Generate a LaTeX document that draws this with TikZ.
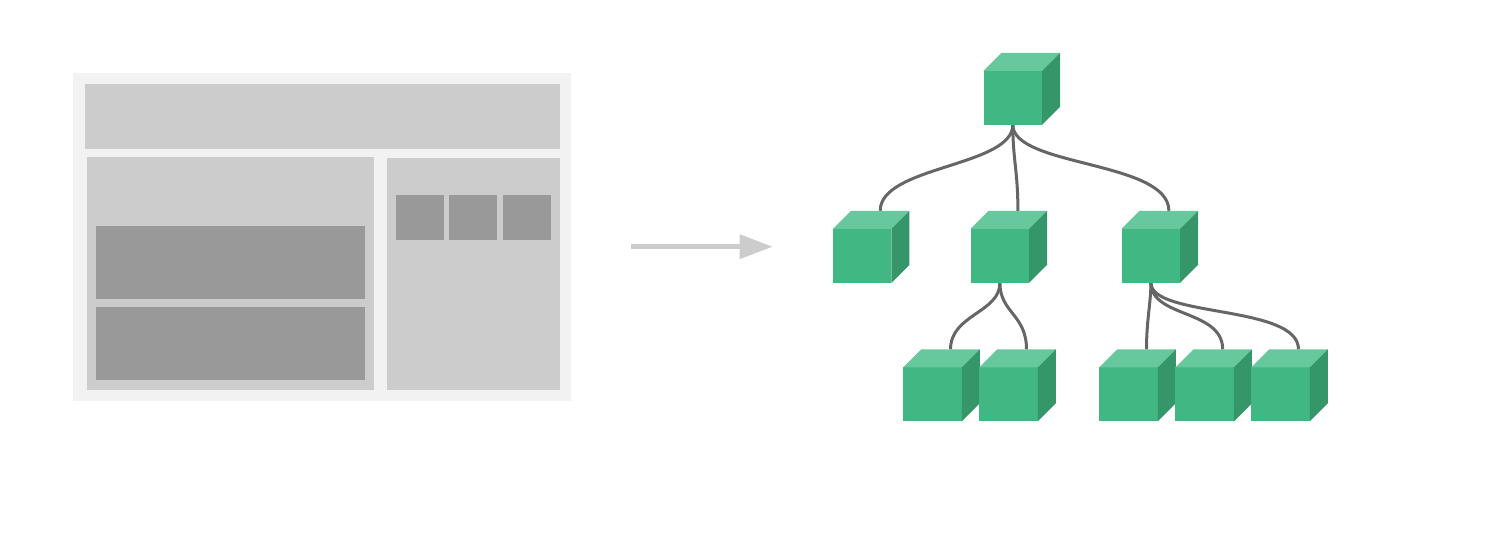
\documentclass[tikz,border=0pt]{standalone}
\usetikzlibrary{arrows.meta,calc,backgrounds}
\definecolor{vfront}{HTML}{41B883}
\definecolor{vtop}{HTML}{66C89C}
\definecolor{vside}{HTML}{35966A}
\definecolor{conncol}{HTML}{666666}
\definecolor{pbg}{HTML}{F2F2F2}
\definecolor{plight}{HTML}{CCCCCC}
\definecolor{pdark}{HTML}{999999}
\tikzset{
  cube/.style={rectangle, fill=vfront, minimum width=58.5pt, minimum height=54pt, inner sep=0pt, outer sep=0pt},
  conn/.style={draw=conncol, line width=3pt},
  bigarrow/.style={draw=plight, line width=5pt, -{Triangle[length=33pt,width=23.5pt]}},
  pane/.style={fill=plight},
  block/.style={fill=pdark},
}
\begin{document}
\begin{tikzpicture}[x=1pt,y=-1pt]
\useasboundingbox (0,0) rectangle (1498,540);
% page mock-up
\fill[pbg] (73.3,73.3) rectangle (570.7,400.7);
\fill[pane] (85.3,84) rectangle (560,149.3);
\fill[pane] (86.7,157.3) rectangle (374,390);
\fill[pane] (386.7,158.3) rectangle (560,390);
\fill[block] (96.3,226) rectangle (365.3,298.7);
\fill[block] (96,307.3) rectangle (364.7,380);
\fill[block] (396,195) rectangle (444.3,240);
\fill[block] (449.3,195) rectangle (497.3,240);
\fill[block] (502.7,195) rectangle (551,240);
% arrow
\coordinate (arrS) at (630.7,246.7);
\coordinate (arrE) at (772.7,246.7);
\draw[bigarrow] (arrS) -- (arrE);
% cubes
\foreach \n/\x/\y in {r/1012.8/97.8, a/862.2/255.8, b/999.9/255.8, c/1150.9/255.8,
  d/932.5/394.4, e/1008.5/394.4, f/1128.5/394.4, g/1204.7/394.4, h/1280.5/394.4}{
  \node[cube] (\n) at (\x,\y) {};
  \fill[vtop] (\n.north west) -- ++(18,-18) -- ++(58.5,0) -- (\n.north east) -- cycle;
  \fill[vside] (\n.north east) -- ++(18,-18) -- ++(0,54) -- (\n.south east) -- cycle;
  \coordinate (\n-top) at ($(\n.north)+(18,-18)$);
}
% connectors
\begin{scope}[on background layer]
\draw[conn] (r.south) .. controls +(0,42) and +(0,-45) .. (a-top);
\draw[conn] (r.south) .. controls +(0,35) and +(0,-40) .. (b-top);
\draw[conn] (r.south) .. controls +(0,42) and +(0,-50) .. (c-top);
\draw[conn] (b.south) .. controls +(0,30) and +(0,-35) .. (d-top);
\draw[conn] (b.south) .. controls +(0,30) and +(0,-35) .. (e-top);
\draw[conn] (c.south) .. controls +(0,20) and +(0,-30) .. (f-top);
\draw[conn] (c.south) .. controls +(0,35) and +(0,-40) .. (g-top);
\draw[conn] (c.south) .. controls +(0,35) and +(0,-45) .. (h-top);
\end{scope}
\end{tikzpicture}
\end{document}
